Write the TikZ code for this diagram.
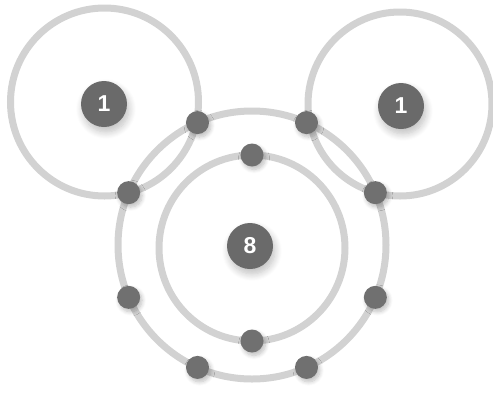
\documentclass[tikz,border=0pt]{standalone}
\usepackage{fontspec}
\setmainfont{Liberation Sans}
\usetikzlibrary{calc,shadows.blur}
\definecolor{ringgray}{HTML}{D2D2D2}
\definecolor{dotgray}{HTML}{707070}
\definecolor{badgegray}{HTML}{6A6A6A}
\tikzset{
  ring/.style={draw=ringgray, line width=7pt},
  electron/.style={circle, fill=dotgray, minimum size=23pt, inner sep=0pt,
    blur shadow={shadow blur steps=8, shadow xshift=2pt, shadow yshift=-3pt, shadow opacity=25, shadow blur radius=4pt}},
  badge/.style={circle, fill=badgegray, minimum size=46pt, inner sep=0pt, text=white,
    font=\fontsize{23}{23}\selectfont\bfseries,
    blur shadow={shadow blur steps=10, shadow xshift=2pt, shadow yshift=-5pt, shadow opacity=25, shadow blur radius=7pt}}
}
\begin{document}
\begin{tikzpicture}[x=1pt,y=-1pt]
\useasboundingbox (0,0) rectangle (493,392);
% orbit centres
\coordinate (cL) at (104.5,102);
\coordinate (cR) at (400,104);
\coordinate (cO) at (252,245);
\coordinate (cI) at (252,248);
% rings
\draw[ring] (cL) circle[radius=94];
\draw[ring] (cR) circle[radius=92];
\draw[ring] (cO) circle[radius=134];
\draw[ring] (cI) circle[radius=93];
% nuclei
\node[badge] (hL) at (104,104) {1};
\node[badge] (hR) at (401,106) {1};
\node[badge] (oN) at (250,246) {8};
% electrons on outer shell (angles measured with y downward)
\foreach \a/\n in {-114/o1,-157/o2,-203/o3,-246/o4,-66/o5,-23/o6,23/o7,66/o8}{
  \node[electron] (\n) at ($(cO)+(\a:134)$) {};
}
\node[electron] (i1) at ($(cI)+(0,-93)$) {};
\node[electron] (i2) at ($(cI)+(0,93)$) {};
\end{tikzpicture}
\end{document}
